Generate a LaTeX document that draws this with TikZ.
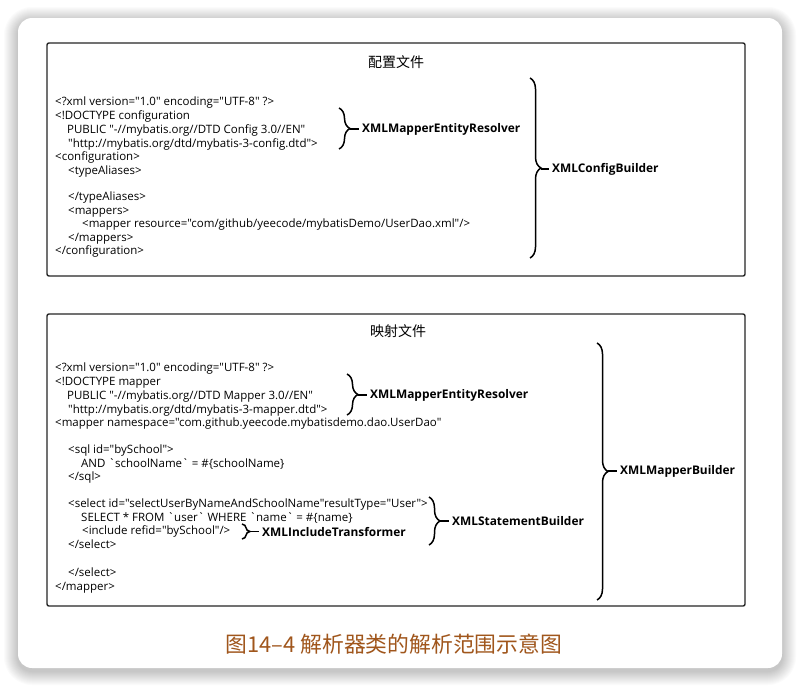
\documentclass[tikz,border=0pt]{standalone}
\usepackage{fontspec}
\newfontfamily\codefont{Open Sans}
\newfontfamily\cjk{Noto Sans CJK SC}
\usetikzlibrary{decorations.pathreplacing}
\definecolor{capc}{HTML}{A0561C}
\tikzset{
  code/.style={anchor=base west, inner sep=0pt, font=\codefont\fontsize{11.5}{13}\selectfont},
  lbl/.style={anchor=west, inner sep=0pt, font=\codefont\fontsize{11.9}{13}\selectfont\bfseries},
  ttl/.style={inner sep=0pt, font=\cjk\fontsize{14}{16}\selectfont},
  frame/.style={draw=black!85, line width=1.4pt, rounded corners=2pt},
  brc/.style={decorate, decoration={brace, amplitude=11pt}, line width=1.5pt},
  tipline/.style={line width=1.5pt, shorten >=3pt},
}
\begin{document}
\begin{tikzpicture}[x=1pt,y=-1pt]
\useasboundingbox (0,0) rectangle (800,686);
\fill[white] (0,0) rectangle (800,686);
% shadow
\foreach \i in {1,...,14}{
  \fill[black, opacity=0.014, rounded corners={14+\i}] (18-\i,18-\i+3) rectangle (782+\i,668+\i+3);
}
\fill[white, rounded corners=14pt] (18,18) rectangle (782,668);

% ---- box 1
\draw[frame] (47,43) rectangle (745,276);
\node[ttl] (t1) at (396,62) {配置文件};
\node[code] (a1) at (55,105) {<?xml version="1.0" encoding="UTF-8" ?>};
\node[code] (a2) at (55,119) {<!DOCTYPE configuration};
\node[code] (a3) at (67,133) {PUBLIC "-//mybatis.org//DTD Config 3.0//EN"};
\node[code] (a4) at (68,147) {"http://mybatis.org/dtd/mybatis-3-config.dtd">};
\node[code] (a5) at (55,160) {<configuration>};
\node[code] (a6) at (68,174) {<typeAliases>};
\node[code] (a7) at (68,200) {</typeAliases>};
\node[code] (a8) at (68,214) {<mappers>};
\node[code] (a9) at (82,227) {<mapper resource="com/github/yeecode/mybatisDemo/UserDao.xml"/>};
\node[code] (a10) at (68,241) {</mappers>};
\node[code] (a11) at (55,254) {</configuration>};

\coordinate (b1t) at (339,108); \coordinate (b1b) at (339,149); \coordinate (b1m) at (350,129);
\draw[brc] (b1t) -- (b1b);
\node[lbl] (l1) at (362,129) {XMLMapperEntityResolver};
\draw[tipline] (b1m) -- (l1.west);
\coordinate (b2t) at (530,78); \coordinate (b2b) at (530,258); \coordinate (b2m) at (541,169);
\draw[brc] (b2t) -- (b2b);
\node[lbl] (l2) at (552,169) {XMLConfigBuilder};
\draw[tipline] (b2m) -- (l2.west);

% ---- box 2
\draw[frame] (47,314) rectangle (745,606);
\node[ttl] (t2) at (398,331) {映射文件};
\node[code] (c1) at (55,371) {<?xml version="1.0" encoding="UTF-8" ?>};
\node[code] (c2) at (55,385) {<!DOCTYPE mapper};
\node[code] (c3) at (67,399) {PUBLIC "-//mybatis.org//DTD Mapper 3.0//EN"};
\node[code] (c4) at (68,413) {"http://mybatis.org/dtd/mybatis-3-mapper.dtd">};
\node[code] (c5) at (55,426) {<mapper namespace="com.github.yeecode.mybatisdemo.dao.UserDao"};
\node[code] (c6) at (68,453) {<sql id="bySchool">};
\node[code] (c7) at (81,467) {AND `schoolName` = \#\{schoolName\}};
\node[code] (c8) at (68,480) {</sql>};
\node[code] (c9) at (68,507) {<select id="selectUserByNameAndSchoolName"resultType="User">};
\node[code] (c10) at (81,521) {SELECT * FROM `user` WHERE `name` = \#\{name\}};
\node[code] (c11) at (82,534) {<include refid="bySchool"/>};
\node[code] (c12) at (68,548) {</select>};
\node[code] (c13) at (68,576) {</select>};
\node[code] (c14) at (55,590) {</mapper>};

\coordinate (d1t) at (347,374); \coordinate (d1b) at (347,415); \coordinate (d1m) at (358,395);
\draw[brc] (d1t) -- (d1b);
\node[lbl] (m1) at (370,395) {XMLMapperEntityResolver};
\draw[tipline] (d1m) -- (m1.west);
\coordinate (d2t) at (429,497); \coordinate (d2b) at (429,545); \coordinate (d2m) at (440,521);
\draw[brc] (d2t) -- (d2b);
\node[lbl] (m2) at (452,521) {XMLStatementBuilder};
\draw[tipline] (d2m) -- (m2.west);
\coordinate (d3t) at (242,524); \coordinate (d3b) at (242,539); \coordinate (d3m) at (250,531.5);
\draw[brc, decoration={brace, amplitude=8pt}] (d3t) -- (d3b);
\node[lbl] (m3) at (262,531.5) {XMLIncludeTransformer};
\draw[tipline] (d3m) -- (m3.west);
\coordinate (d4t) at (597,343); \coordinate (d4b) at (597,600); \coordinate (d4m) at (608,471);
\draw[brc] (d4t) -- (d4b);
\node[lbl] (m4) at (620,471) {XMLMapperBuilder};
\draw[tipline] (d4m) -- (m4.west);

\node[inner sep=0pt, text=capc, font=\cjk\fontsize{21.8}{24}\selectfont] (cap) at (394,644) {图14–4 解析器类的解析范围示意图};
\end{tikzpicture}
\end{document}
